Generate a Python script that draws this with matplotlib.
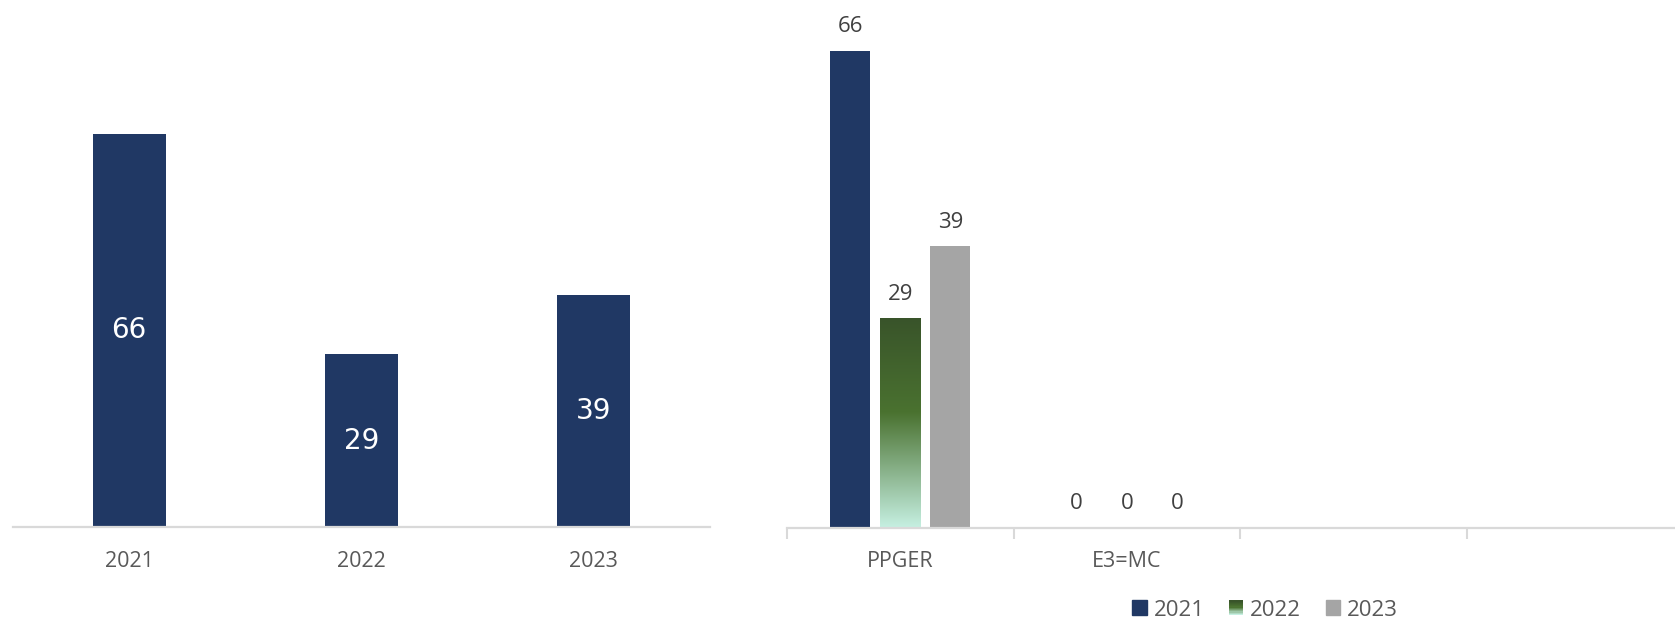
import numpy as np
import matplotlib
matplotlib.use('Agg')
import matplotlib.pyplot as plt
from matplotlib.colors import LinearSegmentedColormap
from matplotlib.legend_handler import HandlerBase
from matplotlib.patches import Rectangle, Patch

# ======================
# DATA
# ======================
years = ['2021', '2022', '2023']
totals = [66, 29, 39]

programs = ['PPGER', 'E3=MC', '', '']
v2021 = [66, 0]
v2022 = [29, 0]
v2023 = [39, 0]

# ======================
# STYLE
# ======================
NAVY = '#203864'
GRAY = '#a5a5a5'
AXIS = '#d9d9d9'
TXT = '#595959'
green_cmap = LinearSegmentedColormap.from_list(
    'grn', [(0, '#39542a'), (0.45, '#4a7230'), (1, '#c6f0e2')])

plt.rcParams['font.family'] = ['Open Sans', 'DejaVu Sans']

fig = plt.figure(figsize=(16.75, 6.23), dpi=100)


class GradientHandler(HandlerBase):
    def create_artists(self, legend, orig_handle, xdescent, ydescent,
                       width, height, fontsize, trans):
        n = 12
        arts = []
        for i in range(n):
            c = green_cmap(i / (n - 1))
            r = Rectangle((-xdescent, -ydescent + height * (1 - (i + 1) / n)),
                          width, height / n, facecolor=c, edgecolor='none',
                          transform=trans)
            arts.append(r)
        return arts


# ======================
# LEFT CHART - TOTALS
# ======================
ax1 = fig.add_axes([13 / 1675, 1 - 527 / 623, 697 / 1675, 527 / 623])
x1 = np.arange(len(years))
bars = ax1.bar(x1, totals, width=0.315, color=NAVY)
for b, v in zip(bars, totals):
    ax1.text(b.get_x() + b.get_width() / 2, v / 2, str(v), ha='center',
             va='center', color='white', fontsize=20, family='DejaVu Sans')
ax1.set_xlim(-0.5, 2.5)
ax1.set_ylim(0, 88.4)
ax1.set_xticks(x1)
ax1.set_xticklabels(years)
ax1.tick_params(axis='x', length=0, pad=17, labelsize=15.5, labelcolor=TXT)
ax1.set_yticks([])
for s in ['top', 'right', 'left']:
    ax1.spines[s].set_visible(False)
ax1.spines['bottom'].set_color(AXIS)
ax1.spines['bottom'].set_linewidth(1.6)

# ======================
# RIGHT CHART - BY PROGRAM
# ======================
ax2 = fig.add_axes([787 / 1675, 1 - 527.6 / 623, (1675 - 787) / 1675, 527.6 / 623])
x2 = np.arange(len(v2021))
w = 0.177
off = 0.221
b1 = ax2.bar(x2 - off, v2021, width=w, color=NAVY)
b2 = ax2.bar(x2, v2022, width=w, color='none')
b3 = ax2.bar(x2 + off, v2023, width=w, color=GRAY)

grad = np.linspace(0, 1, 256).reshape(-1, 1)
for b in b2:
    h = b.get_height()
    if h > 0:
        im = ax2.imshow(grad, cmap=green_cmap, aspect='auto',
                        extent=(b.get_x(), b.get_x() + b.get_width(), 0, h),
                        origin='upper', zorder=2)
        im.set_clip_path(b)

for group in (b1, b2, b3):
    for b in group:
        h = b.get_height()
        ax2.annotate(str(int(h)), (b.get_x() + b.get_width() / 2, h),
                     xytext=(0, 17), textcoords='offset points',
                     ha='center', va='center', fontsize=16, color='#404040')

ax2.set_xlim(-0.5, 3.42)
ax2.set_ylim(0, 73)
ax2.set_xticks(np.arange(len(programs)) - 0.5)
ax2.set_xticklabels([])
ax2.set_xticks(np.arange(len(programs)), minor=True)
ax2.set_xticklabels(programs, minor=True)
ax2.tick_params(axis='x', which='major', length=8, width=1.5, color=AXIS,
                direction='out')
ax2.tick_params(axis='x', which='minor', length=0, pad=17, labelsize=15.5,
                labelcolor=TXT)
ax2.set_yticks([])
for s in ['top', 'right', 'left']:
    ax2.spines[s].set_visible(False)
ax2.spines['bottom'].set_color(AXIS)
ax2.spines['bottom'].set_linewidth(1.6)

# ======================
# LEGEND
# ======================
h2021 = Patch(color=NAVY)
h2022 = Patch(color='#4a7230')
h2023 = Patch(color=GRAY)
fig.legend([h2021, h2022, h2023], years, loc='center',
           bbox_to_anchor=(1265 / 1675, 13 / 623), ncol=3, frameon=False,
           fontsize=16, labelcolor=TXT, handlelength=0.65, handleheight=0.65,
           handletextpad=0.3, columnspacing=1.1, borderpad=0,
           handler_map={h2022: GradientHandler()})

fig.savefig('out.png', dpi=100)
